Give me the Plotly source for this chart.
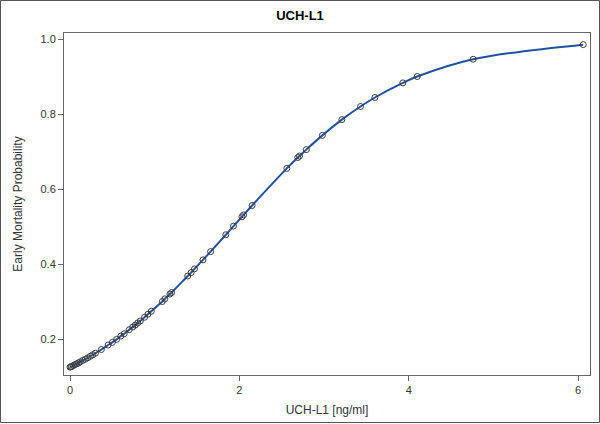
import plotly.graph_objects as go

uchl1 = [0.00, 0.01, 0.02, 0.04, 0.06, 0.08, 0.10, 0.12, 0.15, 0.18, 0.21, 0.24,
         0.27, 0.30, 0.37, 0.45, 0.50, 0.55, 0.60, 0.64, 0.70, 0.74, 0.77, 0.80,
         0.83, 0.88, 0.92, 0.96, 1.09, 1.12, 1.18, 1.20, 1.39, 1.43, 1.47, 1.57,
         1.66, 1.84, 1.93, 2.03, 2.05, 2.15, 2.56, 2.69, 2.71, 2.79, 2.98, 3.21,
         3.43, 3.60, 3.93, 4.10, 4.76, 6.06]
prob = [0.125, 0.126, 0.127, 0.129, 0.132, 0.134, 0.136, 0.139, 0.143, 0.146,
        0.150, 0.154, 0.158, 0.162, 0.172, 0.184, 0.191, 0.199, 0.208, 0.214,
        0.225, 0.232, 0.237, 0.243, 0.248, 0.258, 0.266, 0.274, 0.300, 0.307,
        0.320, 0.324, 0.368, 0.377, 0.387, 0.411, 0.433, 0.478, 0.501, 0.526,
        0.531, 0.556, 0.655, 0.684, 0.688, 0.705, 0.743, 0.785, 0.820, 0.844,
        0.883, 0.900, 0.946, 0.985]

x_ticks = [0, 2, 4, 6]
y_ticks = [0.2, 0.4, 0.6, 0.8, 1.0]
y_tick_text = ["0.2", "0.4", "0.6", "0.8", "1.0"]

fig = go.Figure()
fig.add_trace(go.Scatter(x=uchl1, y=prob, mode="lines",
                         line=dict(color="#23509e", width=2, shape="spline", smoothing=1.0),
                         hoverinfo="skip", showlegend=False))
fig.add_trace(go.Scatter(x=uchl1, y=prob, mode="markers",
                         marker=dict(symbol="circle-open", size=6,
                                     color="#3a3a3a", line=dict(width=1, color="#3a3a3a")),
                         showlegend=False))

L, R, T, B = 64, 10, 33, 49
W, H = 600, 424
pw, ph = W - L - R, H - T - B

fig.update_layout(
    width=W, height=H,
    margin=dict(l=L, r=R, t=T, b=B, pad=0),
    paper_bgcolor="white", plot_bgcolor="white",
    font=dict(family="Liberation Sans, Arial, sans-serif", size=11, color="#333333"),
    title=dict(text="<b>UCH-L1</b>", x=0.5, xanchor="center", y=1 - 15 / H, yanchor="middle",
               font=dict(size=13, color="#000000")),
    xaxis=dict(range=[-0.071, 6.14], tickvals=x_ticks, ticks="outside", ticklen=5,
               tickcolor="#666666", showline=True, linecolor="#666666", linewidth=1,
               mirror=True, showgrid=False, zeroline=False,
               title=dict(text="UCH-L1 [ng/ml]", font=dict(size=12, color="#333333"), standoff=10)),
    yaxis=dict(range=[0.104, 1.016], tickvals=y_ticks, ticktext=y_tick_text, ticks="outside",
               ticklen=5, tickcolor="#666666", showline=True, linecolor="#666666", linewidth=1,
               mirror=True, showgrid=False, zeroline=False,
               title=dict(text="Early Mortality Probability", font=dict(size=12, color="#333333"),
                          standoff=15)),
    shapes=[dict(type="rect", xref="paper", yref="paper",
                 x0=(-L + 0.5) / pw, x1=1 + (R - 0.5) / pw,
                 y0=(-B + 1.5) / ph, y1=1 + (T - 0.5) / ph,
                 line=dict(color="#555555", width=1), layer="above")],
)

fig.write_html("out.html", config={"displayModeBar": False},
               post_script="document.body.style.margin='0';document.body.style.overflow='hidden';")
